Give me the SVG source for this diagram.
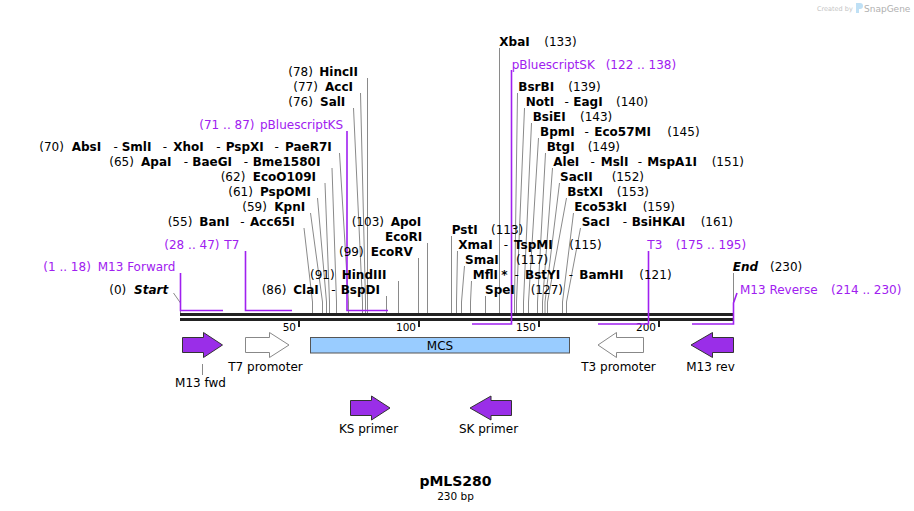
<svg xmlns="http://www.w3.org/2000/svg" width="914" height="511" viewBox="0 0 914 511">
<style>
text{font-family:"DejaVu Sans",Verdana,sans-serif;font-size:12px;fill:#000}
.b{font-weight:bold}
.bi{font-weight:bold;font-style:italic}
.p{fill:#a020f0}
.tk{font-size:10.5px}
.c{text-anchor:middle}
.ld{fill:none;stroke:#8a8a8a;stroke-width:1}
.pf{fill:none;stroke:#a020f0;stroke-width:1.6}
.pa{fill:#9a2ee8;stroke:#333;stroke-width:1}
.wa{fill:#fff;stroke:#888;stroke-width:1}
</style>
<rect width="914" height="511" fill="#fff"/>

<g id="watermark">
<text x="817" y="11" style="font-size:6.5px;fill:#c4c4c4">Created by</text>
<path d="M856,3 h4 q3,0 3,3 q0,3 -3,3 h-1 v4 h-3 z" fill="#bfe0f5"/>
<text x="864" y="12" style="font-size:9px;fill:#b0b0b0">SnapGene</text>
</g>

<g id="sequence">
<rect x="180" y="313" width="553.5" height="3" fill="#222"/>
<rect x="180" y="318" width="553.5" height="3" fill="#222"/>
<g fill="#222">
<rect x="298" y="320" width="2" height="7"/>
<rect x="418" y="320" width="2" height="7"/>
<rect x="538" y="320" width="2" height="7"/>
<rect x="658" y="320" width="2" height="7"/>
</g>
<text class="tk" x="296" y="331" text-anchor="end">50</text>
<text class="tk" x="416" y="331" text-anchor="end">100</text>
<text class="tk" x="536" y="331" text-anchor="end">150</text>
<text class="tk" x="656" y="331" text-anchor="end">200</text>
</g>

<g id="connectors">
<polyline class="ld" points="367.5,78 367.5,313"/>
<polyline class="ld" points="360.5,93 365.5,302 365.5,313"/>
<polyline class="ld" points="353.5,108 362.5,302 362.5,313"/>
<polyline class="ld" points="339.5,153 348.5,302 348.5,313"/>
<polyline class="ld" points="332,168 336.5,302 336.5,313"/>
<polyline class="ld" points="325,183 329.5,302 329.5,313"/>
<polyline class="ld" points="317.5,198 326.5,302 326.5,313"/>
<polyline class="ld" points="310.5,213 322.5,302 322.5,313"/>
<polyline class="ld" points="304,228 312.5,302 312.5,313"/>
<polyline class="ld" points="427.5,243 427.5,313"/>
<polyline class="ld" points="418.5,258 418.5,313"/>
<polyline class="ld" points="398.5,281 398.5,313"/>
<polyline class="ld" points="386.5,296 386.5,313"/>
<polyline class="ld" points="499.5,48 499.5,313"/>
<polyline class="ld" points="517.5,93 514.5,302 514.5,313"/>
<polyline class="ld" points="524.5,108 516.5,302 516.5,313"/>
<polyline class="ld" points="531.5,123 523.5,302 523.5,313"/>
<polyline class="ld" points="538.5,138 528.5,302 528.5,313"/>
<polyline class="ld" points="545.5,153 537.5,302 537.5,313"/>
<polyline class="ld" points="552.5,168 542.5,302 542.5,313"/>
<polyline class="ld" points="559.5,183 545,302 545,313"/>
<polyline class="ld" points="566.5,198 547.5,302 547.5,313"/>
<polyline class="ld" points="573.5,213 562.5,302 562.5,313"/>
<polyline class="ld" points="580.5,228 566.5,302 566.5,313"/>
<polyline class="ld" points="451.5,236 451.5,313"/>
<polyline class="ld" points="457.5,251 456.5,302 456.5,313"/>
<polyline class="ld" points="464.5,266 461.5,302 461.5,313"/>
<polyline class="ld" points="471.5,281 470.5,302 470.5,313"/>
<polyline class="ld" points="485.5,296 485.5,313"/>
<polyline class="ld" points="173.5,293 180.5,303 180.5,313"/>
<polyline class="ld" points="733.5,273 733.5,313"/>
<polyline class="pf" points="180.5,273 180.5,310.5 223,310.5"/>
<polyline class="pf" points="245.5,251 245.5,310.5 292,310.5"/>
<polyline class="pf" points="347,131 347,310.5 388,310.5"/>
<polyline class="pf" points="511.5,70 511.5,324 472,324"/>
<polyline class="pf" points="648.5,251 648.5,324 598,324"/>
<polyline class="pf" points="737,293 733.5,303 733.5,324 692,324"/>
<line class="ld" x1="202.5" y1="364" x2="202.5" y2="375"/>
</g>

<g id="HincII"><text y="76"><tspan x="288.3">(78)</tspan><tspan class="b" x="319.3">HincII</tspan></text></g>
<g id="AccI"><text y="91"><tspan x="293.3">(77)</tspan><tspan class="b" x="325">AccI</tspan></text></g>
<g id="SalI"><text y="106"><tspan x="288.3">(76)</tspan><tspan class="b" x="320">SalI</tspan></text></g>
<g id="pBluescriptKS"><text class="p" y="128.5"><tspan x="199.3">(71 .. 87)</tspan><tspan x="260">pBluescriptKS</tspan></text></g>
<g id="AbsI"><text y="151"><tspan x="39.3">(70)</tspan><tspan class="b" x="71.7">AbsI</tspan><tspan x="113.5">-</tspan><tspan class="b" x="121.7">SmlI</tspan><tspan x="162.8">-</tspan><tspan class="b" x="173.3">XhoI</tspan><tspan x="216.2">-</tspan><tspan class="b" x="225.7">PspXI</tspan><tspan x="274.5">-</tspan><tspan class="b" x="285">PaeR7I</tspan></text></g>
<g id="ApaI"><text y="166"><tspan x="109.3">(65)</tspan><tspan class="b" x="141">ApaI</tspan><tspan x="183.8">-</tspan><tspan class="b" x="192.3">BaeGI</tspan><tspan x="243.8">-</tspan><tspan class="b" x="252.7">Bme1580I</tspan></text></g>
<g id="EcoO109I"><text y="181"><tspan x="220.7">(62)</tspan><tspan class="b" x="252.7">EcoO109I</tspan></text></g>
<g id="PspOMI"><text y="196"><tspan x="228.3">(61)</tspan><tspan class="b" x="260">PspOMI</tspan></text></g>
<g id="KpnI"><text y="211"><tspan x="242.3">(59)</tspan><tspan class="b" x="274.3">KpnI</tspan></text></g>
<g id="BanI"><text y="226"><tspan x="167.7">(55)</tspan><tspan class="b" x="199.3">BanI</tspan><tspan x="240.2">-</tspan><tspan class="b" x="250">Acc65I</tspan></text></g>
<g id="T7"><text class="p" y="249"><tspan x="164.3">(28 .. 47)</tspan><tspan x="224.3">T7</tspan></text></g>
<g id="M13Forward"><text class="p" y="271"><tspan x="43.3">(1 .. 18)</tspan><tspan x="97.7">M13 Forward</tspan></text></g>
<g id="Start"><text y="294"><tspan x="109.3">(0)</tspan><tspan class="bi" x="134">Start</tspan></text></g>

<g id="ApoI"><text y="226"><tspan x="351.7">(103)</tspan><tspan class="b" x="390.7">ApoI</tspan></text><text class="b" x="385" y="241">EcoRI</text></g>
<g id="EcoRV"><text y="256"><tspan x="339">(99)</tspan><tspan class="b" x="370.7">EcoRV</tspan></text></g>
<g id="HindIII"><text y="279"><tspan x="310">(91)</tspan><tspan class="b" x="341.7">HindIII</tspan></text></g>
<g id="ClaI"><text y="294"><tspan x="261.7">(86)</tspan><tspan class="b" x="293.3">ClaI</tspan><tspan x="331.2">-</tspan><tspan class="b" x="340.7">BspDI</tspan></text></g>

<g id="XbaI"><text y="46"><tspan class="b" x="499.3">XbaI</tspan><tspan x="544.3">(133)</tspan></text></g>
<g id="pBluescriptSK"><text class="p" y="69"><tspan x="511.7">pBluescriptSK</tspan><tspan x="605.7">(122 .. 138)</tspan></text></g>
<g id="BsrBI"><text y="91"><tspan class="b" x="518.3">BsrBI</tspan><tspan x="568.3">(139)</tspan></text></g>
<g id="NotI"><text y="106"><tspan class="b" x="525.7">NotI</tspan><tspan x="564.5">-</tspan><tspan class="b" x="573.3">EagI</tspan><tspan x="616">(140)</tspan></text></g>
<g id="BsiEI"><text y="121"><tspan class="b" x="532.7">BsiEI</tspan><tspan x="580">(143)</tspan></text></g>
<g id="BpmI"><text y="136"><tspan class="b" x="540">BpmI</tspan><tspan x="584.5">-</tspan><tspan class="b" x="594.3">Eco57MI</tspan><tspan x="667.3">(145)</tspan></text></g>
<g id="BtgI"><text y="151"><tspan class="b" x="546.7">BtgI</tspan><tspan x="587.7">(149)</tspan></text></g>
<g id="AleI"><text y="166"><tspan class="b" x="553.3">AleI</tspan><tspan x="590.5">-</tspan><tspan class="b" x="600.7">MslI</tspan><tspan x="637.8">-</tspan><tspan class="b" x="647.3">MspA1I</tspan><tspan x="711.7">(151)</tspan></text></g>
<g id="SacII"><text y="181"><tspan class="b" x="560">SacII</tspan><tspan x="611.7">(152)</tspan></text></g>
<g id="BstXI"><text y="196"><tspan class="b" x="567.3">BstXI</tspan><tspan x="616.7">(153)</tspan></text></g>
<g id="Eco53kI"><text y="211"><tspan class="b" x="574.3">Eco53kI</tspan><tspan x="642.7">(159)</tspan></text></g>
<g id="SacI"><text y="226"><tspan class="b" x="581.7">SacI</tspan><tspan x="622.8">-</tspan><tspan class="b" x="631.7">BsiHKAI</tspan><tspan x="700.7">(161)</tspan></text></g>
<g id="PstI"><text y="234"><tspan class="b" x="451.7">PstI</tspan><tspan x="491">(113)</tspan></text></g>
<g id="XmaI"><text y="249"><tspan class="b" x="458.3">XmaI</tspan><tspan x="503.8">-</tspan><tspan class="b" x="514">TspMI</tspan><tspan x="569.3">(115)</tspan></text></g>
<g id="SmaI"><text y="264"><tspan class="b" x="465">SmaI</tspan><tspan x="516">(117)</tspan></text></g>
<g id="MflI"><text y="279"><tspan class="b" x="472.7">MflI</tspan><tspan class="b" x="501.2">*</tspan><tspan x="514.5">-</tspan><tspan class="b" x="525">BstYI</tspan><tspan x="568.8">-</tspan><tspan class="b" x="579.3">BamHI</tspan><tspan x="639.3">(121)</tspan></text></g>
<g id="SpeI"><text y="294"><tspan class="b" x="485">SpeI</tspan><tspan x="530.7">(127)</tspan></text></g>
<g id="T3"><text class="p" y="249"><tspan x="647.3">T3</tspan><tspan x="675.7">(175 .. 195)</tspan></text></g>
<g id="End"><text y="271"><tspan class="bi" x="732.7">End</tspan><tspan x="770">(230)</tspan></text></g>
<g id="M13Reverse"><text class="p" y="294"><tspan x="740">M13 Reverse</tspan><tspan x="831">(214 .. 230)</tspan></text></g>

<g id="M13fwd">
<path class="pa" d="M182.5,337.5 H203.5 V332.5 L222.5,345 L203.5,357.5 V352.5 H182.5 Z"/>
<text class="c" x="200.5" y="386.5">M13 fwd</text>
</g>
<g id="T7promoter">
<path class="wa" d="M245.5,337.5 H269.5 V332.5 L289,345 L269.5,357.5 V352.5 H245.5 Z"/>
<text class="c" x="265.5" y="371">T7 promoter</text>
</g>
<g id="MCS">
<rect x="310.5" y="337.5" width="259" height="15.5" fill="#99ccff" stroke="#555" stroke-width="1"/>
<text class="c" x="440" y="349.5">MCS</text>
</g>
<g id="T3promoter">
<path class="wa" d="M643.5,337.5 H616.5 V332.5 L598,345 L616.5,357.5 V352.5 H643.5 Z"/>
<text class="c" x="618.5" y="371">T3 promoter</text>
</g>
<g id="M13rev">
<path class="pa" d="M733.5,337.5 H712.5 V332.5 L691,345 L712.5,357.5 V352.5 H733.5 Z"/>
<text class="c" x="710.5" y="371">M13 rev</text>
</g>
<g id="KSprimer">
<path class="pa" d="M350.5,400.5 H371.5 V396 L390,408 L371.5,420 V415.5 H350.5 Z"/>
<text class="c" x="368.5" y="433">KS primer</text>
</g>
<g id="SKprimer">
<path class="pa" d="M511.5,400.5 H491 V396 L470,408 L491,420 V415.5 H511.5 Z"/>
<text class="c" x="488.5" y="433">SK primer</text>
</g>

<g id="title">
<text class="c b" x="455.5" y="485.5" style="font-size:14px">pMLS280</text>
<text class="c" x="455.5" y="500" style="font-size:10.5px">230 bp</text>
</g>
</svg>
